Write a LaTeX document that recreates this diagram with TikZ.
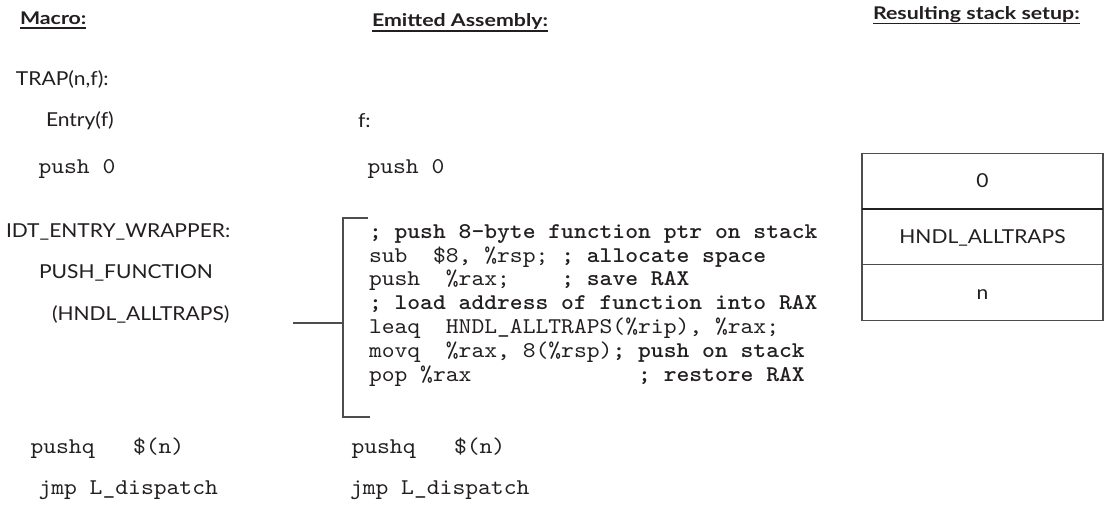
\documentclass[tikz,border=0pt]{standalone}
\usepackage{fontspec}
\setmainfont{Lato}
\newfontfamily\labelfont{Lato}[FakeStretch=1.095]
\newfontfamily\headfont{Lato}[FakeStretch=1.22]
\newfontfamily\codefont{lmmono10-regular.otf}[FakeStretch=1.085]
\newfontfamily\codeboldfont{lmmonolt10-bold.otf}[FakeStretch=1.085]
\usetikzlibrary{positioning}
\definecolor{ink}{HTML}{231F20}
\definecolor{rulegray}{HTML}{4D4D4D}
% bold comment inside an assembly line
\newcommand\asmnote[1]{{\codeboldfont #1}}

\begin{document}
\begin{tikzpicture}[x=1pt,y=-1pt,
  every node/.style={inner sep=0pt, outer sep=0pt, text=ink},
  lbl/.style={anchor=base west, font=\fontsize{19.2}{22}\labelfont},
  head/.style={anchor=base west, font=\fontsize{17.5}{20}\headfont\bfseries},
  code/.style={anchor=base west, font=\fontsize{22.5}{24}\codefont},
  cell/.style={minimum width=241pt, minimum height=55.7pt,
    text height=13.7pt, text depth=0pt, font=\fontsize{19.2}{22}\labelfont},
  headrule/.style={draw=ink, line width=1.3pt},
  wire/.style={draw=rulegray, line width=1.4pt},
  box/.style={draw=rulegray, line width=1.2pt}]

\fill[white] (0,0) rectangle (1107,507);
\useasboundingbox (0,0) rectangle (1107,507);

% column headings
\node[head] (hmacro) at (20,24) {Macro:};
\node[head] (hasm) at (372,26.5) {Emitted Assembly:};
\node[head] (hstack) at (873,19.5) {Resulting stack setup:};
\draw[headrule] ([yshift=-4pt]hmacro.base west) -- ([yshift=-4pt]hmacro.base east);
\draw[headrule] ([yshift=-4.5pt]hasm.base west) -- ([yshift=-4.5pt]hasm.base east);
\draw[headrule] ([yshift=-4pt]hstack.base west) -- ([yshift=-4pt]hstack.base east);

% macro column
\node[lbl] (trap) at (16,85) {TRAP(n,f):};
\node[lbl] (entry) at (46,126) {Entry(f)};
\node[code] (push0m) at (38.5,173) {push 0};
\node[lbl] (idt) at (6,237) {IDT\_ENTRY\_WRAPPER:};
\node[lbl] (pushfn) at (39,278) {PUSH\_FUNCTION};
\node[lbl] (hndlarg) at (52,320) {(HNDL\_ALLTRAPS)};
\node[code] (pushqm) at (30.5,453) {pushq~~~\$(n)};
\node[code] (jmpm) at (38.5,494) {jmp L\_dispatch};

% emitted assembly column
\node[lbl] (flabel) at (358,127) {f:};
\node[code] (push0a) at (367.5,173) {push 0};
\node[code] (l1) at (369,238) {\asmnote{; push 8-byte function ptr on stack}};
\node[code] (l2) at (369,262) {sub~~\$8, \%rsp; \asmnote{; allocate space}};
\node[code] (l3) at (369,285.5) {push~~\%rax;~~~~\asmnote{; save RAX}};
\node[code] (l4) at (369,309) {\asmnote{; load address of function into RAX}};
\node[code] (l5) at (369,333) {leaq~~HNDL\_ALLTRAPS(\%rip), \%rax;};
\node[code] (l6) at (369,357) {movq~~\%rax, 8(\%rsp)\asmnote{; push on stack}};
\node[code] (l7) at (369,381) {pop \%rax~~~~~~~~~~~~~\asmnote{; restore RAX}};
\node[code] (pushqa) at (351.5,453) {pushq~~~\$(n)};
\node[code] (jmpa) at (350,494) {jmp L\_dispatch};

% bracket joining the macro argument to its expansion
\coordinate (btop) at (368,218);
\coordinate (bbot) at (370,417);
\coordinate (bspine) at (343,323);
\coordinate (wirefree) at (293,323);
\draw[wire] (btop) -- (btop -| bspine) -- (bbot -| bspine) -- (bbot);
\draw[wire] (wirefree) -- (bspine);

% resulting stack
\node[cell] (s0) at (982.5,181) {0};
\node[cell, below=0pt of s0] (s1) {HNDL\_ALLTRAPS};
\node[cell, below=0pt of s1] (s2) {n};
\draw[box] (s0.north west) rectangle (s2.south east);
\draw[draw=ink, line width=1.5pt] (s0.south west) -- (s0.south east);
\draw[box] (s1.south west) -- (s1.south east);
\end{tikzpicture}
\end{document}
